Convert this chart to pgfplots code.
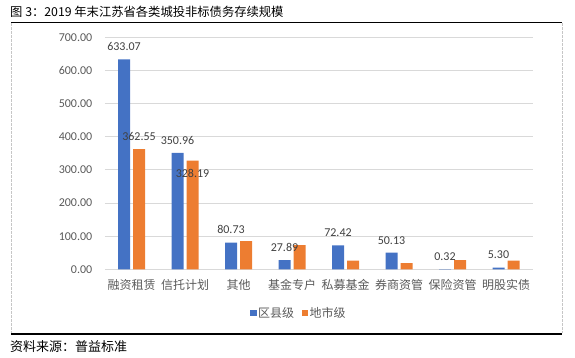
\documentclass[border=0pt]{standalone}
\usepackage{pgfplots}
\pgfplotsset{compat=1.18}
\usepackage{fontspec}
\setmainfont{Carlito}
\newfontfamily\cjk{Noto Sans CJK SC}
\definecolor{cblue}{HTML}{4472C4}
\definecolor{corange}{HTML}{ED7D31}
\definecolor{gridc}{HTML}{D9D9D9}
\definecolor{tickc}{HTML}{595959}
\definecolor{labc}{HTML}{404040}
\begin{document}
\begin{tikzpicture}[x=1bp,y=1bp]
\path[use as bounding box] (0,0) rectangle (575,357);
\begin{axis}[
  at={(104.75bp,87.7bp)}, anchor=south west,
  scale only axis, width=428bp, height=232bp,
  xmin=-0.5, xmax=7.5, ymin=0, ymax=700,
  ytick={0,100,...,700},
  xtick={0,...,7},
  xticklabels={融资租赁,信托计划,其他,基金专户,私募基金,券商资管,保险资管,明股实债},
  xticklabel style={font=\cjk\fontsize{12bp}{14bp}\selectfont, text=tickc, yshift=-6.5bp},
  yticklabel style={font=\fontsize{12bp}{14bp}\selectfont, text=tickc, xshift=-9bp,
    /pgf/number format/.cd, fixed, fixed zerofill, precision=2},
  /pgf/number format/assume math mode=true,
  major tick length=0pt,
  axis line style={draw=none},
  ymajorgrids, grid style={gridc, line width=0.8bp},
  ybar, bar width=12bp,
  nodes near coords={\pgfmathprintnumber[fixed,fixed zerofill,precision=2]{\pgfplotspointmeta}},
  every node near coord/.append style={font=\fontsize{12bp}{14bp}\selectfont, text=labc, yshift=5bp},
  legend columns=2,
  legend style={at={(0.3394,-0.188)}, anchor=west, draw=none, fill=none, inner sep=0pt,
    font=\cjk\fontsize{12bp}{14bp}\selectfont, text=tickc,
    /tikz/every even column/.append style={column sep=6bp},
    nodes={inner sep=1.5bp}},
  legend image code/.code={\fill[#1] (0bp,-3.25bp) rectangle (6.5bp,3.25bp);},
]
\addplot[fill=cblue, draw=none, bar shift=-7.5bp] coordinates {
  (0,633.07) (1,350.96) (2,80.73) (3,27.89) (4,72.42) (5,50.13) (6,0.32) (7,5.30)};
\addlegendentry{区县级}
\addplot[fill=corange, draw=none, bar shift=7.5bp, nodes near coords={}] coordinates {
  (0,362.55) (1,328.19) (2,85) (3,73) (4,26) (5,19) (6,28) (7,26)};
\addlegendentry{地市级}
\addplot[draw=none, fill=none, bar shift=7.5bp, forget plot] coordinates {(0,362.55)};
\addplot[draw=none, fill=none, bar shift=7.5bp, forget plot,
  every node near coord/.append style={anchor=north, yshift=-10bp}] coordinates {(1,328.19)};
\end{axis}
\node[anchor=west, inner sep=0pt, font=\cjk\fontsize{12.3bp}{14bp}\selectfont] at (10,345) {图 3：2019 年末江苏省各类城投非标债务存续规模};
\draw[black, line width=1.2bp] (11,334.7) -- (562.3,334.7);
\draw[black, line width=1.2bp] (11,23) -- (562.3,23);
\draw[gray!45, line width=0.8bp, dash pattern=on 2.5bp off 1.5bp] (11.3,334) -- (11.3,23.6);
\draw[gray!45, line width=0.8bp, dash pattern=on 2.5bp off 1.5bp] (562.3,334) -- (562.3,23.6);
\node[anchor=west, inner sep=0pt, font=\cjk\fontsize{13bp}{15bp}\selectfont] at (10,10.3) {资料来源：普益标准};
\end{tikzpicture}
\end{document}
